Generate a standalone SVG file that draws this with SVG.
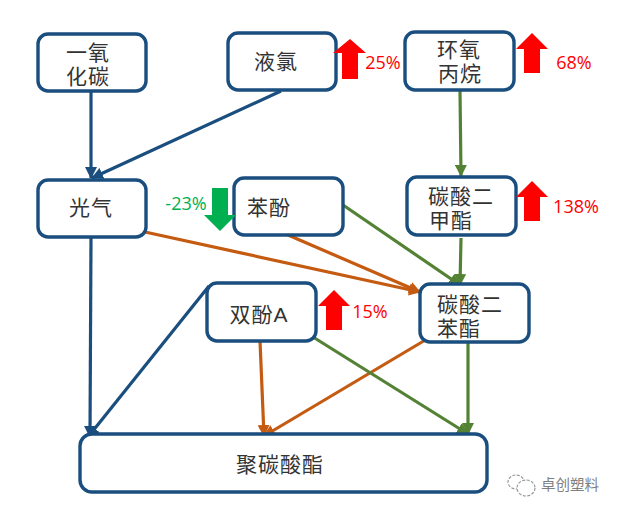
<svg xmlns="http://www.w3.org/2000/svg" width="620" height="513" viewBox="0 0 620 513">
<style>
text{font-family:"Liberation Sans","Noto Sans CJK SC",sans-serif;font-size:21px;letter-spacing:1px;fill:#333;text-anchor:middle}
.box{fill:#fff;stroke:#1a4e7e;stroke-width:3.4}
text.lat{font-family:"Open Sans","Liberation Sans",sans-serif;font-size:18px;letter-spacing:0}
.red{fill:#f00}.grn{fill:#00b050}
text.red{fill:#f00}text.grn{fill:#00b050}
.b{stroke:#1a4e7e}.g{stroke:#548235}.o{stroke:#c55a11}
#connectors line{stroke-width:3.2;fill:none}
</style>
<defs>
<marker id="mb" markerUnits="userSpaceOnUse" markerWidth="13" markerHeight="12" refX="11" refY="6" orient="auto"><path d="M0 0L12 6L0 12Z" fill="#1a4e7e"/></marker>
<marker id="mg" markerUnits="userSpaceOnUse" markerWidth="13" markerHeight="12" refX="11" refY="6" orient="auto"><path d="M0 0L12 6L0 12Z" fill="#548235"/></marker>
<marker id="mo" markerUnits="userSpaceOnUse" markerWidth="13" markerHeight="12" refX="11" refY="6" orient="auto"><path d="M0 0L12 6L0 12Z" fill="#c55a11"/></marker>
</defs>
<rect width="620" height="513" fill="#fff"/>
<g id="connectors">
<line class="b" x1="91" y1="91" x2="91" y2="178" marker-end="url(#mb)"/>
<line class="b" x1="281" y1="91" x2="92" y2="178" marker-end="url(#mb)"/>
<line class="g" x1="460" y1="90" x2="461" y2="176" marker-end="url(#mg)"/>
<line class="g" x1="461" y1="238" x2="460" y2="285" marker-end="url(#mg)"/>
<line class="g" x1="343" y1="205" x2="460" y2="285" marker-end="url(#mg)"/>
<line class="o" x1="145" y1="232" x2="420" y2="292" marker-end="url(#mo)"/>
<line class="o" x1="288" y1="235" x2="420" y2="292" marker-end="url(#mo)"/>
<line class="b" x1="91" y1="237" x2="90" y2="437" marker-end="url(#mb)"/>
<line class="b" x1="209" y1="286" x2="88" y2="437" marker-end="url(#mb)"/>
<line class="o" x1="260" y1="341" x2="264" y2="436" marker-end="url(#mo)"/>
<line class="o" x1="427" y1="339" x2="264" y2="436" marker-end="url(#mo)"/>
<line class="g" x1="313" y1="337" x2="468" y2="434" marker-end="url(#mg)"/>
<line class="g" x1="468" y1="342" x2="468" y2="434" marker-end="url(#mg)"/>
</g>
<g id="n1"><rect class="box" x="38" y="34" width="108" height="57" rx="10"/><text x="88" y="60">一氧</text><text x="88" y="84">化碳</text></g>
<g id="n2"><rect class="box" x="228" y="33" width="108" height="57" rx="10"/><text x="276" y="69">液氯</text></g>
<g id="n3"><rect class="box" x="405" y="32" width="109" height="58" rx="10"/><text x="459" y="57">环氧</text><text x="460" y="81">丙烷</text></g>
<g id="n4"><rect class="box" x="38" y="180" width="108" height="57" rx="10"/><text x="91" y="215">光气</text></g>
<g id="n5"><rect class="box" x="234" y="178" width="109" height="57" rx="10"/><text x="269" y="215">苯酚</text></g>
<g id="n6"><rect class="box" x="407" y="177" width="109" height="58" rx="10"/><text x="461" y="204">碳酸二</text><text x="451" y="228">甲酯</text></g>
<g id="n7"><rect class="box" x="207" y="283" width="109" height="58" rx="10"/><text x="259" y="322">双酚A</text></g>
<g id="n8"><rect class="box" x="420" y="284" width="109" height="58" rx="10"/><text x="470" y="312">碳酸二</text><text x="459" y="336">苯酯</text></g>
<g id="n9"><rect class="box" x="80" y="434" width="407" height="58" rx="12"/><text x="280" y="472">聚碳酸酯</text></g>
<g id="indicators">
<path class="red" d="M333 53L350 39L366 53H358V79H342V53Z"/>
<path class="red" d="M516 49L532 33L548 49H540V73H524V49Z"/>
<path class="red" d="M516 197L532 181L548 197H540V221H524V197Z"/>
<path class="red" d="M318 306L334 290L350 306H342V330H326V306Z"/>
<path class="grn" d="M212 188H228V215H236L220 231L204 215H212Z"/>
<text class="lat red" x="383" y="69">25%</text>
<text class="lat red" x="574" y="69">68%</text>
<text class="lat red" x="576" y="213">138%</text>
<text class="lat red" x="370" y="318">15%</text>
<text class="lat grn" x="186" y="210">-23%</text>
</g>
<g id="watermark">
<ellipse cx="516" cy="482" rx="8" ry="7" fill="none" stroke="#999" stroke-width="1.2" stroke-dasharray="3 1.5"/>
<ellipse cx="526" cy="488" rx="9" ry="8" fill="#fff" stroke="#999" stroke-width="1.2" stroke-dasharray="3 1.5"/>
<text x="570" y="490" style="font-size:14.5px;letter-spacing:0;fill:#808080">卓创塑料</text>
</g>
</svg>
